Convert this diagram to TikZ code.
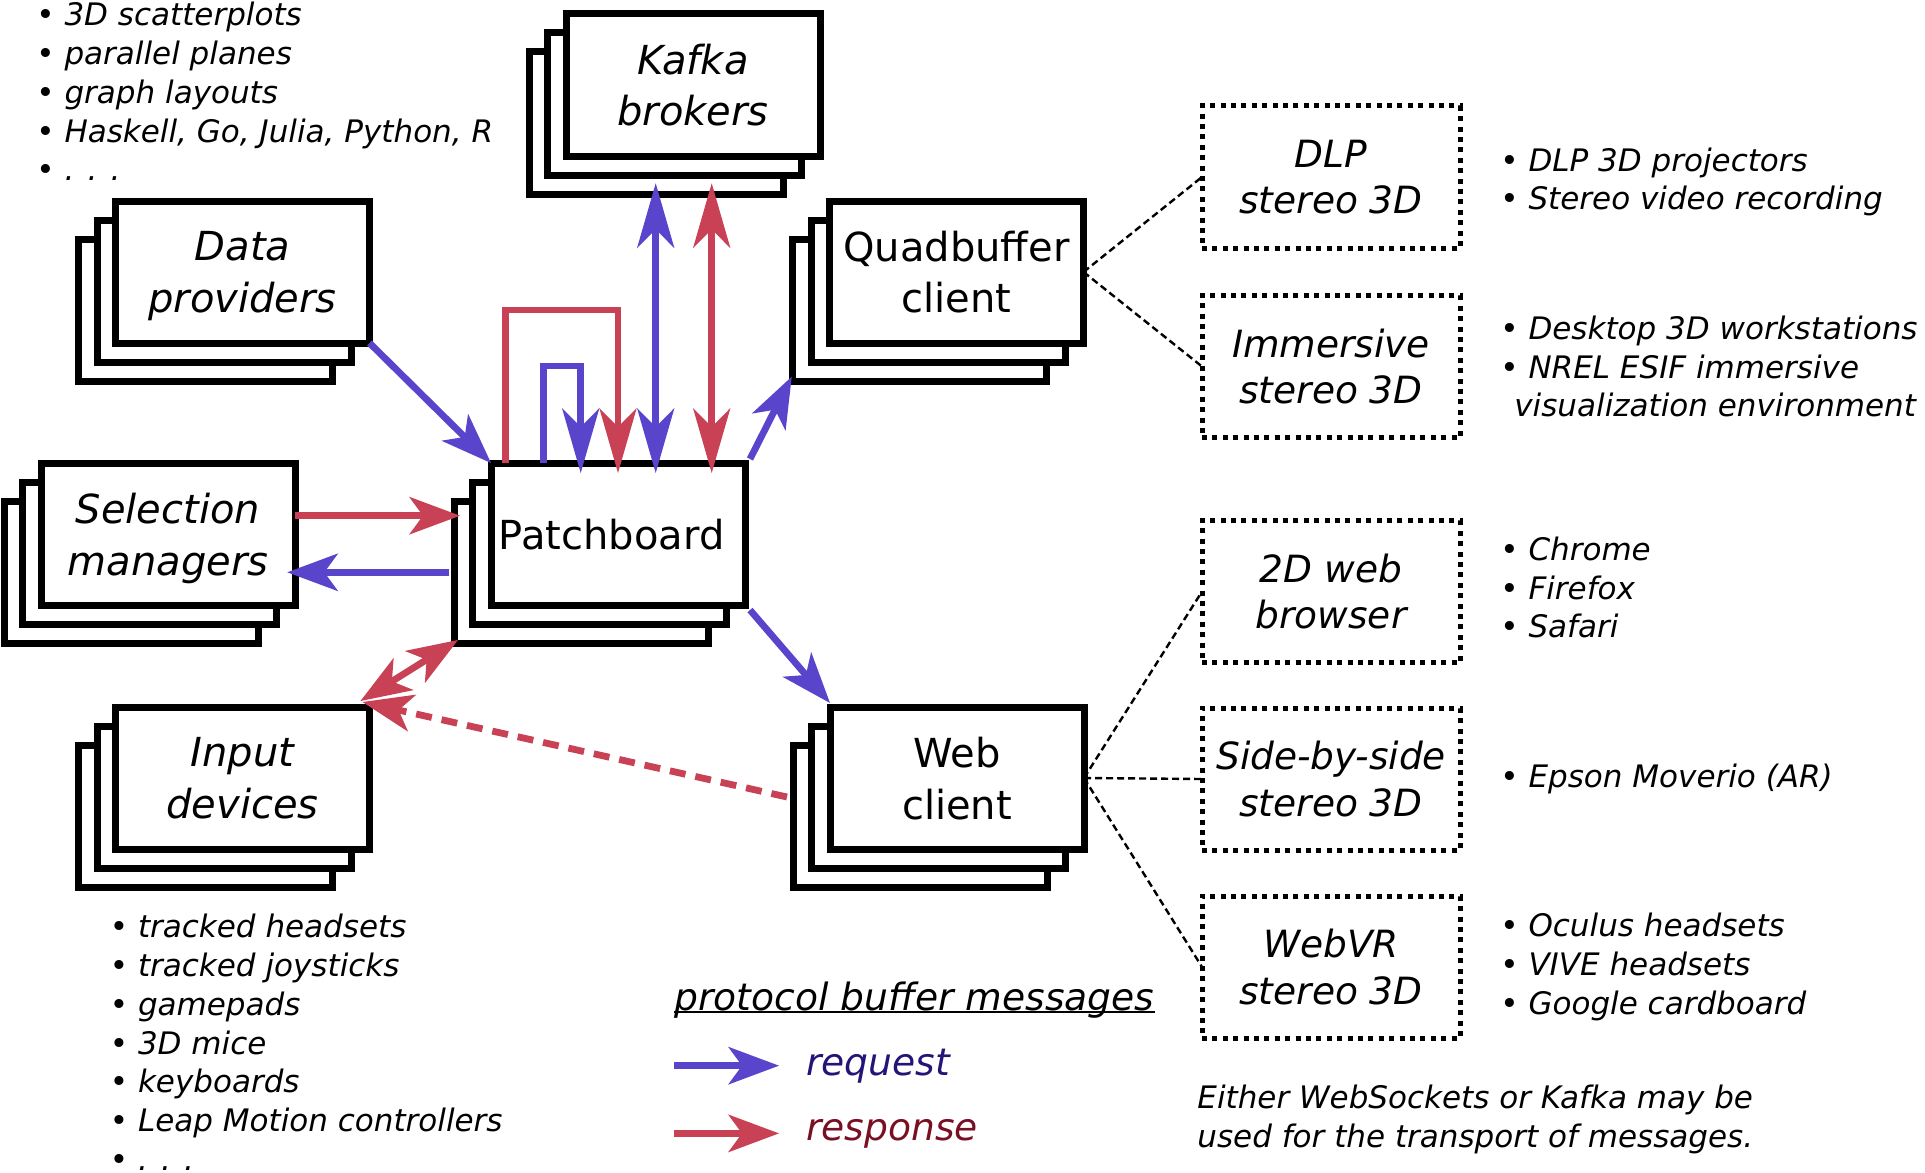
\documentclass[tikz,border=0pt]{standalone}
\usepackage{fontspec}
\setmainfont{DejaVu Sans}
\usetikzlibrary{positioning, shadows, arrows.meta}

\definecolor{reqblue}{RGB}{89,68,204}
\definecolor{resred}{RGB}{200,65,85}
\definecolor{reqtext}{RGB}{35,20,120}
\definecolor{restext}{RGB}{120,15,35}

\begin{document}
\begin{tikzpicture}[x=0.5pt, y=-0.5pt,
	block/.style = { rectangle, draw=black, line width=3.5pt, fill=white,
	minimum width=127pt, minimum height=71pt, inner sep=2pt, outer sep=0pt,
	align=center, text depth=0pt, font=\fontsize{20}{25.8}\selectfont,
	double copy shadow={shadow xshift=-9.25pt, shadow yshift=-9.5pt} },
	slanted/.style = { font=\fontsize{20}{25.8}\selectfont\itshape },
	viewbox/.style = { rectangle, draw=black, line width=2.5pt,
	dash pattern=on 2.5pt off 2.7pt, minimum width=129pt, minimum height=71pt,
	inner sep=2pt, outer sep=0pt, align=center,
	font=\fontsize{18.75}{23.3}\selectfont\itshape },
	items/.style = { inner sep=0pt, align=left,
	font=\fontsize{15.5}{19.35}\selectfont\itshape },
	legend/.style = { inner sep=0pt, font=\fontsize{18.8}{23}\selectfont\itshape },
	bighead/.tip = { Stealth[length=25.5pt, width=19pt, inset=7pt, line width=0pt] },
	tallhead/.tip = { Stealth[length=32.5pt, width=18.75pt, inset=9.5pt, line width=0pt] },
	req/.style = { draw=reqblue, line width=3.4pt },
	res/.style = { draw=resred, line width=3.4pt },
	link/.style = { draw=black, line width=1.2pt, dash pattern=on 3.5pt off 2pt } ]

  \useasboundingbox (0,0) rectangle (1925,1172);

  \node [name=patch, block] at (618,534) { Patchboard };
  \node [name=sel, block, slanted, left=98pt of patch] { Selection\\managers };
  \node [name=data, block, slanted,
	above left=60pt and 60.75pt of patch.north west] { Data\\providers };
  \node [name=input, block, slanted,
	below left=51pt and 60.75pt of patch.south west] { Input\\devices };
  \node [name=quad, block,
	above right=60pt and 42.25pt of patch.north east] { Quadbuffer\\client };
  \node [name=web, block,
	below right=51pt and 42.5pt of patch.south east] { Web\\client };
  \node [name=kafka, block, slanted, above=153.5pt of patch.north, xshift=37.5pt]
	{ Kafka\\brokers };

  \node [name=dlp, viewbox] at (1331,177) { DLP\\stereo 3D };
  \node [name=immersive, viewbox, below=23.75pt of dlp] { Immersive\\stereo 3D };
  \node [name=browser, viewbox, below=41.5pt of immersive] { 2D web\\browser };
  \node [name=sbs, viewbox, below=22.75pt of browser] { Side-by-side\\stereo 3D };
  \node [name=webvr, viewbox, below=23pt of sbs] { WebVR\\stereo 3D };

  \node [name=dlplist, items, right=20pt of dlp, yshift=-2.5pt]
	{ \textbullet\ DLP 3D projectors\\\textbullet\ Stereo video recording };
  \node [name=immlist, items, right=20pt of immersive]
	{ \textbullet\ Desktop 3D workstations\\\textbullet\ NREL ESIF immersive\\
	\hspace*{0.45em}visualization environment };
  \node [name=browserlist, items, right=20pt of browser, yshift=2pt]
	{ \textbullet\ Chrome\\\textbullet\ Firefox\\\textbullet\ Safari };
  \node [name=sbslist, items, right=20pt of sbs] { \textbullet\ Epson Moverio (AR) };
  \node [name=webvrlist, items, right=20pt of webvr]
	{ \textbullet\ Oculus headsets\\\textbullet\ VIVE headsets\\\textbullet\ Google cardboard };

  \node [name=vislist, items, anchor=north west] at (36,2)
	{ \textbullet\ 3D scatterplots\\\textbullet\ parallel planes\\\textbullet\ graph layouts\\
	\textbullet\ Haskell, Go, Julia, Python, R\\\textbullet\ . . . };
  \node [name=inputlist, items, below right=32.5pt and -3pt of input.south west]
	{ \textbullet\ tracked headsets\\\textbullet\ tracked joysticks\\\textbullet\ gamepads\\
	\textbullet\ 3D mice\\\textbullet\ keyboards\\\textbullet\ Leap Motion controllers\\
	\textbullet\ . . . };

  \node [name=note, items, below right=23.5pt and -2.5pt of webvr.south west]
	{ Either WebSockets or Kafka may be\\used for the transport of messages. };

  \node [name=legtitle, legend, anchor=base west] at (674,1010) { protocol buffer messages };
  \node [name=reqlabel, legend, text=reqtext, anchor=base west] at (806,1075) { request };
  \node [name=reslabel, legend, text=restext, anchor=base west] at (806,1140) { response };
  \draw [line width=1pt] ([yshift=-1pt]legtitle.base west) -- ([yshift=-1pt]legtitle.base east);
  \draw [req, -bighead] ([xshift=-66pt]reqlabel.west) -- ([xshift=-13.5pt]reqlabel.west);
  \draw [res, -bighead] ([xshift=-66pt]reslabel.west) -- ([xshift=-13.5pt]reslabel.west);

  \draw [link] (quad.east) -- (dlp.west);
  \draw [link] (quad.east) -- (immersive.west);
  \draw [link] (web.east) -- (browser.west);
  \draw [link] (web.east) -- (sbs.west);
  \draw [link] (web.east) -- (webvr.west);

  \coordinate (redtop) at ([yshift=76.5pt]patch.north);
  \coordinate (bluetop) at ([xshift=-18.65pt, yshift=48.5pt]patch.north);
  \draw [res, -tallhead] ([xshift=7.35pt]patch.north west) |- (redtop)
	-- ([yshift=-5pt]patch.north);
  \draw [req, -tallhead] ([xshift=26.15pt]patch.north west) |- (bluetop)
	-- ([xshift=-18.65pt, yshift=-5pt]patch.north);
  \draw [req, tallhead-tallhead] ([xshift=18.85pt, yshift=-5pt]patch.north)
	-- ([xshift=-18.65pt, yshift=-13.65pt]kafka.south);
  \draw [res, tallhead-tallhead] ([xshift=46.85pt, yshift=-5pt]patch.north)
	-- ([xshift=9.35pt, yshift=-13.65pt]kafka.south);

  \draw [req, -bighead] (data.south east) -- (patch.north west);
  \draw [res, -bighead] ([yshift=9.15pt]sel.east)
	-- ([xshift=-15.5pt, yshift=9.15pt]patch.west);
  \draw [req, -bighead] ([xshift=-20.85pt, yshift=-19.15pt]patch.west)
	-- ([xshift=-3.85pt, yshift=-19.15pt]sel.east);
  \draw [res, bighead-bighead] ([xshift=-4.5pt, yshift=3pt]input.north east)
	-- ([xshift=-16.5pt, yshift=-17.5pt]patch.south west);
  \draw [res, dash pattern=on 8pt off 5pt, -bighead] ([xshift=-21.5pt, yshift=-9.5pt]web.west)
	-- ([xshift=-3.5pt, yshift=2.5pt]input.north east);
  \draw [req, -bighead] ([xshift=2.5pt, yshift=2pt]patch.north east)
	-- ([xshift=-18.9pt, yshift=-16.85pt]quad.south west);
  \draw [req, -bighead] ([xshift=2.5pt, yshift=-2.5pt]patch.south east)
	-- ([yshift=2pt]web.north west);
\end{tikzpicture}
\end{document}
